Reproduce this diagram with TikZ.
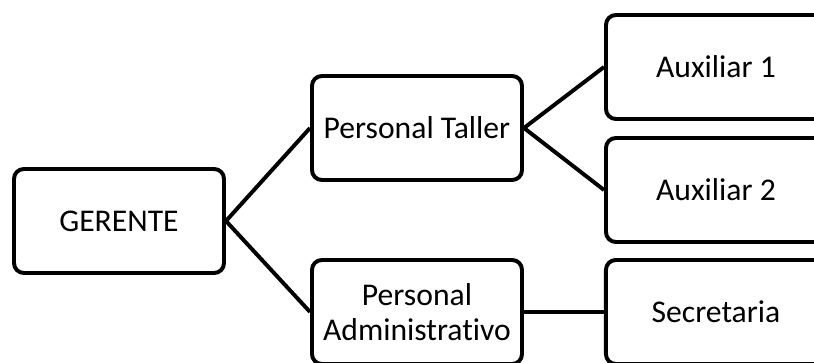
\documentclass[tikz,border=0pt]{standalone}
\usepackage{fontspec}
\setmainfont{Carlito}[Ligatures=NoCommon]
\usetikzlibrary{positioning}

\begin{document}
\begin{tikzpicture}[node distance=2.0cm, auto,
  caja/.style={draw=black,line width=2.8pt,rounded corners=7pt,fill=white,
    minimum width=5.25cm,minimum height=2.6cm,align=center,
    font=\fontsize{22.5}{25}\selectfont},
  ancha/.style={caja,minimum width=5.5cm},
  linea/.style={line width=2.8pt}]

\useasboundingbox (0,0) rectangle (20.35,9.075);

%first level
\node[caja] (gerente) at (2.975,3.55) {GERENTE};

%second level
\node[caja] (taller) at (10.425,5.875) {Personal Taller};
\node[caja] (admin) at (10.425,1.275) {Personal\\Administrativo};

%third level
\node[ancha] (aux1) at (17.9,7.4) {Auxiliar 1};
\node[ancha] (aux2) at (17.9,4.325) {Auxiliar 2};
\node[ancha,right=of admin] (secre) {Secretaria};

%connectors
\draw[linea] (taller.west) -- (gerente.east) -- (admin.west);
\draw[linea] (aux1.west) -- (taller.east) -- (aux2.west);
\draw[linea] (admin.east) -- (secre.west);

\end{tikzpicture}
\end{document}
